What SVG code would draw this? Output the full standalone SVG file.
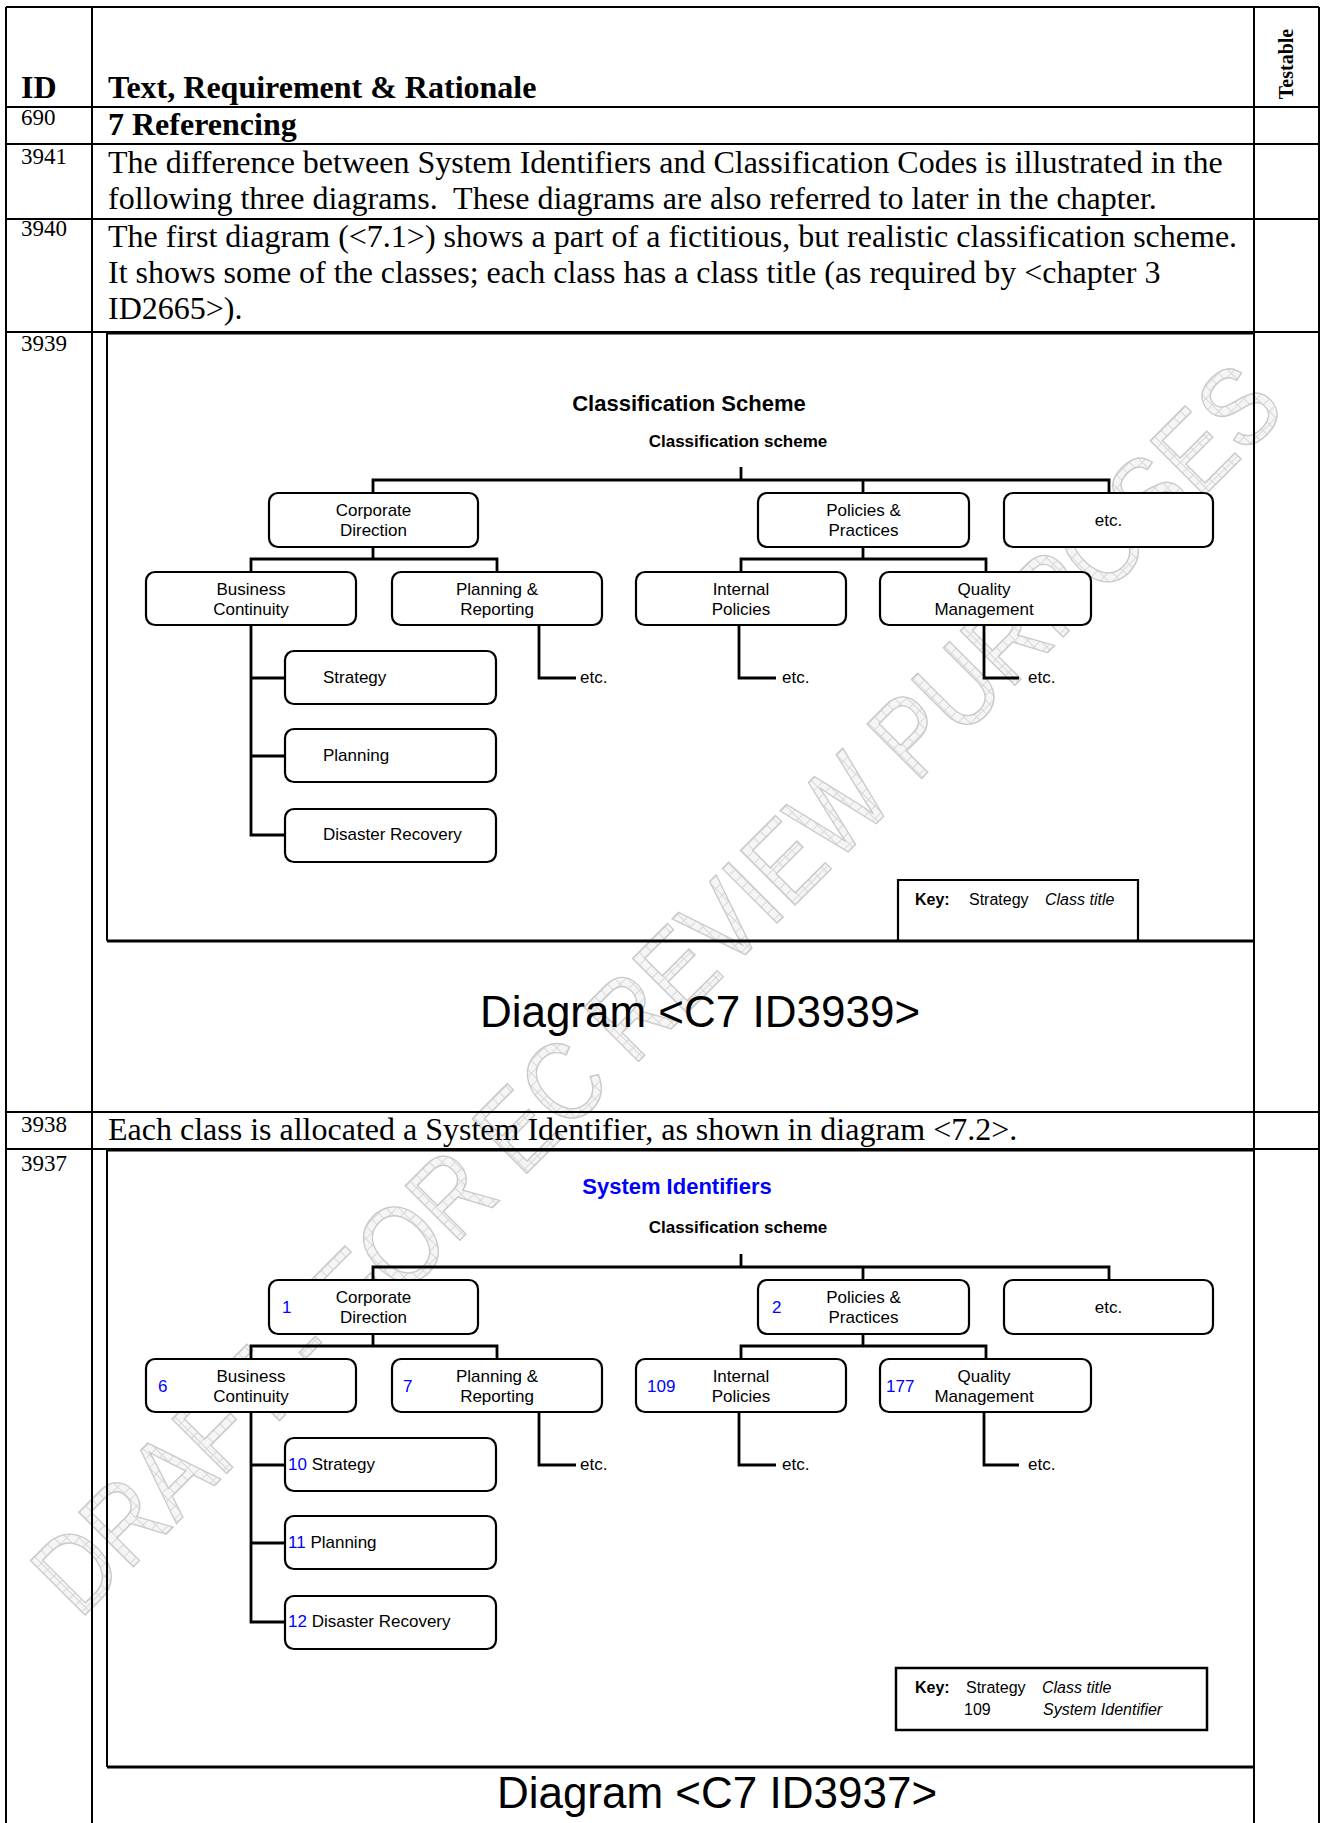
<svg xmlns="http://www.w3.org/2000/svg" width="1321" height="1823" viewBox="0 0 1321 1823">
<defs>
<pattern id="hatch" width="9" height="9" patternUnits="userSpaceOnUse">
<rect width="9" height="9" fill="#f5f5f5"/>
<path d="M0,4.5 H9 M4.5,0 V9" stroke="#d8d8d8" stroke-width="1"/>
</pattern>
</defs>
<style>
.tb{stroke:#000;stroke-width:2;fill:none}
.fr{stroke:#000;stroke-width:3;fill:none}
.body{font-family:"Liberation Serif","Times New Roman",serif;font-size:32px;fill:#000}
.bold{font-weight:bold}
.id{font-family:"Liberation Serif","Times New Roman",serif;font-size:23px;fill:#000}
.box{fill:#fff;stroke:#000;stroke-width:2.2}
.con{fill:none;stroke:#000;stroke-width:2.8}
.lbl{font-family:"Liberation Sans",Arial,sans-serif;font-size:17px;fill:#000;text-anchor:middle}
.lbs{font-family:"Liberation Sans",Arial,sans-serif;font-size:17px;fill:#000}
.num{fill:#0000ff}
.title{font-family:"Liberation Sans",Arial,sans-serif;font-size:22px;font-weight:bold;text-anchor:middle}
.sub{font-family:"Liberation Sans",Arial,sans-serif;font-size:17px;font-weight:bold;text-anchor:middle}
.key{font-family:"Liberation Sans",Arial,sans-serif;font-size:16px;fill:#000}
.cap{font-family:"Liberation Sans",Arial,sans-serif;font-size:44px;fill:#000;text-anchor:middle}
.wm{font-family:"Liberation Sans",Arial,sans-serif;font-size:112px;fill:url(#hatch);stroke:#cacaca;stroke-width:1.5;text-anchor:middle}
</style>
<rect width="1321" height="1823" fill="#fff"/>

<g id="watermark">
<text class="wm" transform="translate(684,1016) rotate(-45)" textLength="1710" lengthAdjust="spacingAndGlyphs">DRAFT - FOR EC REVIEW PURPOSES</text>
</g>

<g id="table">
<path class="tb" d="M6,7 V1823 M92,7 V1823 M1254,7 V1823 M1319,7 V1823"/>
<path class="tb" d="M6,7 H1319 M6,107 H1319 M6,144 H1319 M6,219 H1319 M6,332 H1319 M6,1112 H1319 M6,1149 H1319"/>
<path class="fr" d="M107,333 H1254 M107,941 H1254 M107,1150 H1254 M107,1767 H1254"/>
<path class="tb" d="M107,332 V941 M107,1149 V1767"/>
</g>

<g id="table-text">
<text class="body bold" x="21" y="98">ID</text>
<text class="body bold" x="108" y="98">Text, Requirement &amp; Rationale</text>
<text transform="translate(1293,64) rotate(-90)" text-anchor="middle" font-family="Liberation Serif, Times New Roman, serif" font-size="20" font-weight="bold">Testable</text>
<text class="id" x="21" y="125">690</text>
<text class="body bold" x="108" y="135">7 Referencing</text>
<text class="id" x="21" y="164">3941</text>
<text class="body" x="108" y="173">The difference between System Identifiers and Classification Codes is illustrated in the</text>
<text class="body" x="108" y="209" style="white-space:pre">following three diagrams.  These diagrams are also referred to later in the chapter.</text>
<text class="id" x="21" y="236">3940</text>
<text class="body" x="108" y="247">The first diagram (&lt;7.1&gt;) shows a part of a fictitious, but realistic classification scheme.</text>
<text class="body" x="108" y="283">It shows some of the classes; each class has a class title (as required by &lt;chapter 3</text>
<text class="body" x="108" y="319">ID2665&gt;).</text>
<text class="id" x="21" y="351">3939</text>
<text class="id" x="21" y="1132">3938</text>
<text class="body" x="108" y="1140">Each class is allocated a System Identifier, as shown in diagram &lt;7.2&gt;.</text>
<text class="id" x="21" y="1171">3937</text>
<text class="cap" x="700" y="1027">Diagram &lt;C7 ID3939&gt;</text>
<text class="cap" x="717" y="1808">Diagram &lt;C7 ID3937&gt;</text>
</g>

<!-- Diagram 1 -->
<g id="d1">
<text class="title" x="689" y="411">Classification Scheme</text>
<text class="sub" x="738" y="447">Classification scheme</text>
<g id="d1-connectors">
<path class="con" d="M741,467 V480 M373,493 V480 H1109 V493 M863,480 V493 M373,547 V559 M251,572 V559 H497 V572 M863,547 V559 M741,572 V559 H986 V572 M251,625 V835 H285 M251,678 H285 M251,756 H285 M539,625 V678 H576 M739,625 V678 H776 M984,625 V678 H1019"/>
</g>
<g id="d1-cd"><rect class="box" x="269" y="493" width="209" height="54" rx="9"/><text class="lbl" x="373.5" y="516">Corporate</text><text class="lbl" x="373.5" y="536">Direction</text></g>
<g id="d1-pp"><rect class="box" x="758" y="493" width="211" height="54" rx="9"/><text class="lbl" x="863.5" y="516">Policies &amp;</text><text class="lbl" x="863.5" y="536">Practices</text></g>
<g id="d1-etc"><rect class="box" x="1004" y="493" width="209" height="54" rx="9"/><text class="lbl" x="1108.5" y="526">etc.</text></g>
<g id="d1-bc"><rect class="box" x="146" y="572" width="210" height="53" rx="9"/><text class="lbl" x="251" y="595">Business</text><text class="lbl" x="251" y="615">Continuity</text></g>
<g id="d1-pr"><rect class="box" x="392" y="572" width="210" height="53" rx="9"/><text class="lbl" x="497" y="595">Planning &amp;</text><text class="lbl" x="497" y="615">Reporting</text></g>
<g id="d1-ip"><rect class="box" x="636" y="572" width="210" height="53" rx="9"/><text class="lbl" x="741" y="595">Internal</text><text class="lbl" x="741" y="615">Policies</text></g>
<g id="d1-qm"><rect class="box" x="880" y="572" width="211" height="53" rx="9"/><text class="lbl" x="984" y="595">Quality</text><text class="lbl" x="984" y="615">Management</text></g>
<g id="d1-st"><rect class="box" x="285" y="651" width="211" height="53" rx="9"/><text class="lbs" x="323" y="683">Strategy</text></g>
<g id="d1-pl"><rect class="box" x="285" y="729" width="211" height="53" rx="9"/><text class="lbs" x="323" y="761">Planning</text></g>
<g id="d1-dr"><rect class="box" x="285" y="809" width="211" height="53" rx="9"/><text class="lbs" x="323" y="840">Disaster Recovery</text></g>
<g id="d1-etc2"><text class="lbs" x="580" y="683">etc.</text></g>
<g id="d1-etc3"><text class="lbs" x="782" y="683">etc.</text></g>
<g id="d1-etc4"><text class="lbs" x="1028" y="683">etc.</text></g>
<g id="d1-key">
<path d="M898,941 V880 H1138 V941" fill="none" stroke="#000" stroke-width="2.2"/>
<text class="key" x="915" y="905" font-weight="bold">Key:</text>
<text class="key" x="969" y="905">Strategy</text>
<text class="key" x="1045" y="905" font-style="italic">Class title</text>
</g>
</g>

<!-- Diagram 2 -->
<g id="d2">
<text class="title" x="677" y="1194" fill="#0000ff">System Identifiers</text>
<text class="sub" x="738" y="1233">Classification scheme</text>
<g transform="translate(0,787)">
<g id="d2-connectors">
<path class="con" d="M741,467 V480 M373,493 V480 H1109 V493 M863,480 V493 M373,547 V559 M251,572 V559 H497 V572 M863,547 V559 M741,572 V559 H986 V572 M251,625 V835 H285 M251,678 H285 M251,756 H285 M539,625 V678 H576 M739,625 V678 H776 M984,625 V678 H1019"/>
</g>
<g id="d2-cd"><rect class="box" x="269" y="493" width="209" height="54" rx="9"/><text class="lbs num" x="282" y="526">1</text><text class="lbl" x="373.5" y="516">Corporate</text><text class="lbl" x="373.5" y="536">Direction</text></g>
<g id="d2-pp"><rect class="box" x="758" y="493" width="211" height="54" rx="9"/><text class="lbs num" x="772" y="526">2</text><text class="lbl" x="863.5" y="516">Policies &amp;</text><text class="lbl" x="863.5" y="536">Practices</text></g>
<g id="d2-etc"><rect class="box" x="1004" y="493" width="209" height="54" rx="9"/><text class="lbl" x="1108.5" y="526">etc.</text></g>
<g id="d2-bc"><rect class="box" x="146" y="572" width="210" height="53" rx="9"/><text class="lbs num" x="158" y="605">6</text><text class="lbl" x="251" y="595">Business</text><text class="lbl" x="251" y="615">Continuity</text></g>
<g id="d2-pr"><rect class="box" x="392" y="572" width="210" height="53" rx="9"/><text class="lbs num" x="403" y="605">7</text><text class="lbl" x="497" y="595">Planning &amp;</text><text class="lbl" x="497" y="615">Reporting</text></g>
<g id="d2-ip"><rect class="box" x="636" y="572" width="210" height="53" rx="9"/><text class="lbs num" x="647" y="605">109</text><text class="lbl" x="741" y="595">Internal</text><text class="lbl" x="741" y="615">Policies</text></g>
<g id="d2-qm"><rect class="box" x="880" y="572" width="211" height="53" rx="9"/><text class="lbs num" x="886" y="605">177</text><text class="lbl" x="984" y="595">Quality</text><text class="lbl" x="984" y="615">Management</text></g>
<g id="d2-st"><rect class="box" x="285" y="651" width="211" height="53" rx="9"/><text class="lbs" x="288" y="683"><tspan class="num">10</tspan> Strategy</text></g>
<g id="d2-pl"><rect class="box" x="285" y="729" width="211" height="53" rx="9"/><text class="lbs" x="288" y="761"><tspan class="num">11</tspan> Planning</text></g>
<g id="d2-dr"><rect class="box" x="285" y="809" width="211" height="53" rx="9"/><text class="lbs" x="288" y="840"><tspan class="num">12</tspan> Disaster Recovery</text></g>
<g id="d2-etc2"><text class="lbs" x="580" y="683">etc.</text></g>
<g id="d2-etc3"><text class="lbs" x="782" y="683">etc.</text></g>
<g id="d2-etc4"><text class="lbs" x="1028" y="683">etc.</text></g>
</g>
<g id="d2-key">
<rect x="896" y="1668" width="311" height="62" fill="#fff" stroke="#000" stroke-width="2.5"/>
<text class="key" x="915" y="1693" font-weight="bold">Key:</text>
<text class="key" x="966" y="1693">Strategy</text>
<text class="key" x="1042" y="1693" font-style="italic">Class title</text>
<text class="key num" x="964" y="1715">109</text>
<text class="key" x="1043" y="1715" font-style="italic">System Identifier</text>
</g>
</g>
</svg>
